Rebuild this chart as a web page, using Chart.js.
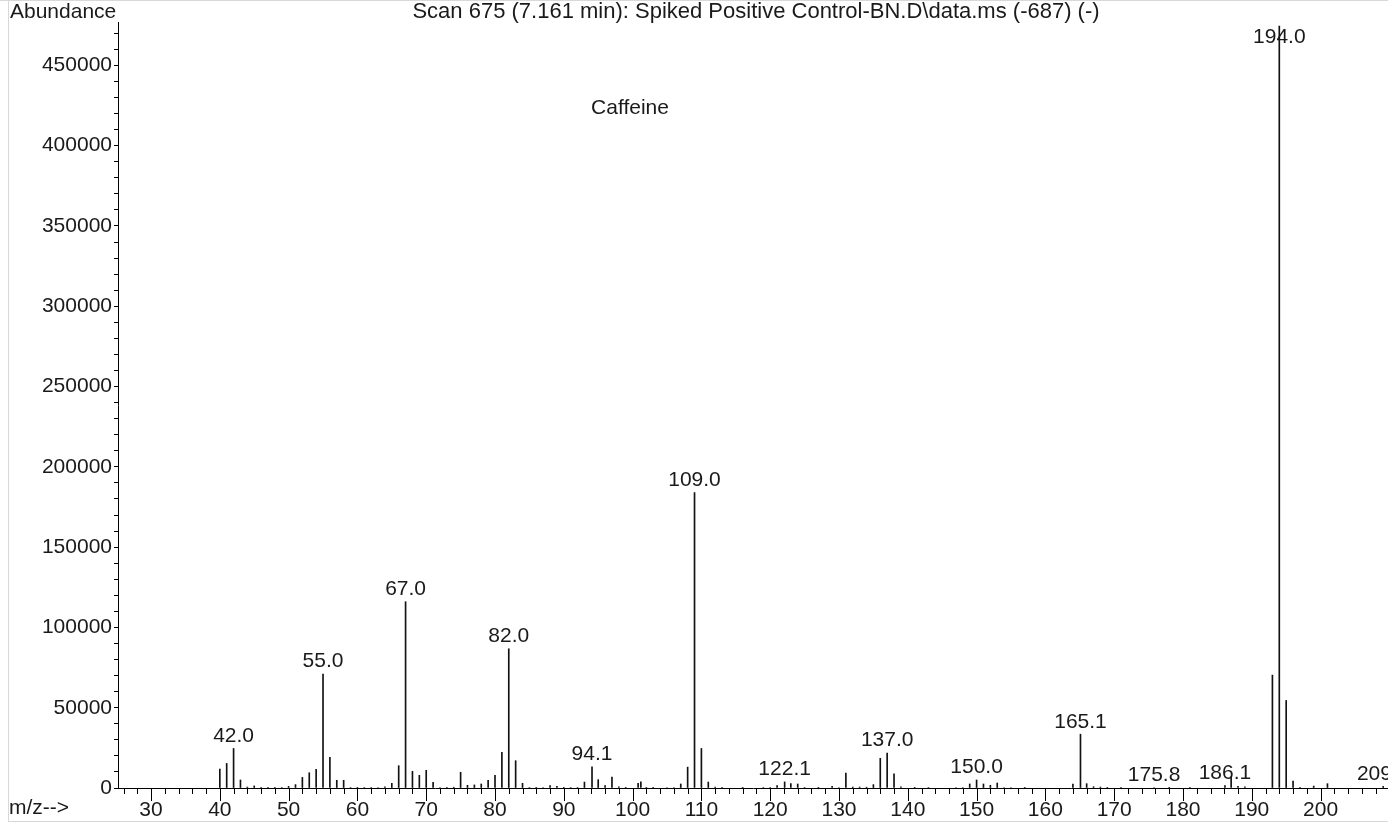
<!DOCTYPE html>
<html>
<head>
<meta charset="utf-8">
<script src="https://cdn.jsdelivr.net/npm/chart.js@4/dist/chart.umd.min.js"></script>
<style>
  body { margin: 0; background: #fff; }
  canvas { display: block; }
</style>
</head>
<body>
<canvas id="ms" width="1388" height="825"></canvas>
<script>
// m/z of each peak
const masses = [
  40, 41, 42, 43, 44, 45, 46, 47, 48, 49, 50, 51, 52, 53, 54, 55, 56, 57, 58, 59,
  60, 61, 62, 63, 64, 65, 66, 67, 68, 69, 70, 71, 72, 73, 74, 75, 76, 77, 78, 79,
  80, 81, 82, 83, 84, 85, 86, 87, 88, 89, 90, 91, 92, 93, 94.1, 95, 96, 97, 98, 99,
  100.8, 101.2, 102, 103, 105, 106, 107, 108, 109, 110, 111, 112, 113, 116, 119,
  120, 121, 122.1, 123, 124, 125, 127, 129, 130, 131, 132, 133, 134, 135, 136, 137, 138, 139,
  141, 143, 147, 148, 149, 150, 151, 152, 153, 154, 155, 157,
  164, 165.1, 166, 167, 168, 169, 171, 175.8, 178, 181, 186.1, 187, 188, 189,
  193, 194, 195, 196, 197, 199, 201, 209.1
];
// abundance of each peak
const abundance = [
  11800, 15300, 24600, 5000, 600, 1300, 400, 400, 400, 300, 1000, 2100, 6600, 9500, 11600, 71000, 19100, 4800, 4800, 300,
  200, 300, 300, 300, 700, 2900, 13900, 116000, 10400, 7900, 11000, 3500, 300, 200, 500, 9800, 1700, 1900, 2500, 4800,
  7900, 22200, 86700, 17000, 2900, 300, 200, 300, 1500, 1000, 200, 300, 300, 3700, 13200, 5200, 1500, 6800, 800, 400,
  2900, 3900, 400, 200, 300, 300, 2500, 13000, 184000, 24600, 3700, 500, 200, 200, 300,
  300, 1500, 3800, 2700, 2500, 300, 200, 1000, 300, 9300, 600, 600, 500, 2100, 18500, 21800, 8900, 800,
  200, 300, 300, 300, 2500, 5000, 2500, 1700, 3100, 300, 300, 400,
  2500, 33500, 2700, 800, 600, 400, 200, 300, 200, 200, 1500, 7000, 1000, 800,
  70300, 474500, 54500, 4300, 400, 1200, 2700, 1000
];
// peaks that carry an m/z label
const labelled = [42, 55, 67, 82, 94.1, 109, 122.1, 137, 150, 165.1, 175.8, 186.1, 194, 209.1];

// y ticks: every 10000, labelled every 50000
const yTicks = [];
for (let v = 0; v <= 470000; v += 10000) yTicks.push(v);
const yLabelEvery = 50000;

const titleText = 'Scan 675 (7.161 min): Spiked Positive Control-BN.D\\data.ms (-687) (-)';
const compound = 'Caffeine';

const FONT = '"Liberation Sans", Arial, Helvetica, sans-serif';

const textPlugin = {
  id: 'msText',
  afterDraw(chart) {
    const ctx = chart.ctx;
    const xs = chart.scales.x;
    const area = chart.chartArea;
    ctx.save();

    // light frame
    ctx.strokeStyle = '#d8d8d8';
    ctx.lineWidth = 1;
    ctx.beginPath();
    ctx.moveTo(0, 0.5); ctx.lineTo(chart.width, 0.5);
    ctx.moveTo(8.5, 0); ctx.lineTo(8.5, 822);
    ctx.moveTo(8, 821.5); ctx.lineTo(chart.width, 821.5);
    ctx.stroke();

    // x ticks: every 2, long at tens
    ctx.strokeStyle = '#000';
    ctx.beginPath();
    for (let v = 26; v <= 208; v += 2) {
      const px = Math.round(xs.getPixelForValue(v)) + 0.5;
      const len = v % 10 === 0 ? 13 : 6;
      ctx.moveTo(px, area.bottom);
      ctx.lineTo(px, area.bottom + len);
    }
    ctx.stroke();

    ctx.fillStyle = '#1a1a1a';
    ctx.font = '21px ' + FONT;
    ctx.textBaseline = 'middle';

    // peak labels
    const meta = chart.getDatasetMeta(0);
    ctx.textAlign = 'center';
    labelled.forEach(m => {
      const i = masses.indexOf(m);
      const el = meta.data[i];
      const y = Math.max(el.y - 12.5, area.top + 15);
      ctx.fillText(m.toFixed(1), el.x, y);
    });

    ctx.textAlign = 'left';
    ctx.fillText('Abundance', 10, 12);
    ctx.fillText('m/z-->', 9, 808);
    ctx.textAlign = 'center';
    ctx.fillText(compound, 630, 108);
    ctx.font = '22px ' + FONT;
    ctx.fillText(titleText, 756, 12);
    ctx.restore();
  }
};

new Chart(document.getElementById('ms'), {
  type: 'bar',
  data: {
    datasets: [{
      data: masses.map((m, i) => ({ x: m, y: abundance[i] })),
      backgroundColor: '#111',
      borderWidth: 0,
      barThickness: 1
    }]
  },
  options: {
    responsive: false,
    animation: false,
    layout: { padding: { top: 22, left: 0, right: 0, bottom: 0 } },
    plugins: { legend: { display: false }, tooltip: { enabled: false } },
    scales: {
      x: {
        type: 'linear',
        min: 25.2,
        max: 209.8,
        offset: false,
        grid: { display: false, offset: false },
        border: { display: true, color: '#000', width: 1 },
        ticks: {
          stepSize: 10,
          includeBounds: false,
          autoSkip: false,
          maxRotation: 0,
          padding: 2,
          color: '#1a1a1a',
          font: { family: FONT, size: 21 }
        },
        afterFit(scale) { scale.height = 37; }
      },
      y: {
        min: 0,
        max: 477000,
        grid: { drawOnChartArea: false, drawTicks: true, tickLength: 4, color: '#000' },
        border: { display: true, color: '#000', width: 1 },
        ticks: {
          autoSkip: false,
          padding: 2,
          color: '#1a1a1a',
          font: { family: FONT, size: 21 },
          callback: v => (v % yLabelEvery === 0 ? String(v) : '')
        },
        afterBuildTicks(scale) { scale.ticks = yTicks.map(v => ({ value: v })); },
        afterFit(scale) { scale.width = 118; }
      }
    }
  },
  plugins: [textPlugin]
});
</script>
</body>
</html>
